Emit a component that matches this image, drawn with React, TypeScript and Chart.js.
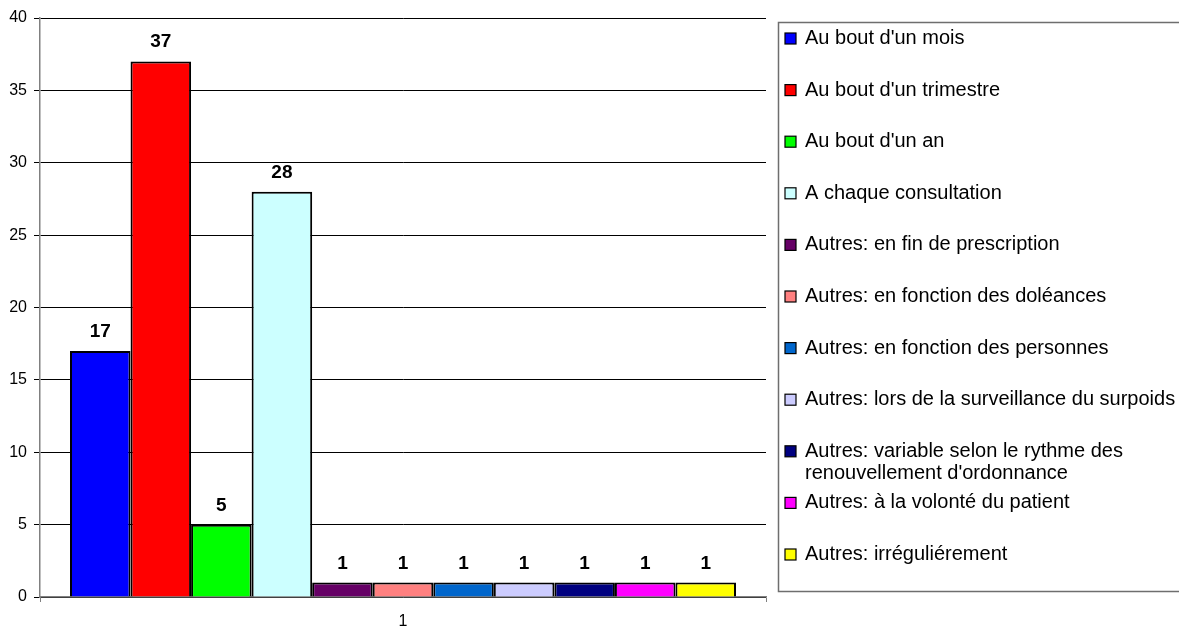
import React, { useEffect, useRef } from "react";
import { Chart, registerables } from "chart.js";

Chart.register(...registerables);

const categories = ["1"];
const seriesLabels = [
  "Au bout d'un mois",
  "Au bout d'un trimestre",
  "Au bout d'un an",
  "A chaque consultation",
  "Autres: en fin de prescription",
  "Autres: en fonction des doléances",
  "Autres: en fonction des personnes",
  "Autres: lors de la surveillance du surpoids",
  "Autres: variable selon le rythme des renouvellement d'ordonnance",
  "Autres: à la volonté du patient",
  "Autres: irréguliérement",
];
const seriesValues = [17, 37, 5, 28, 1, 1, 1, 1, 1, 1, 1];
const seriesColors = [
  "#0000FF",
  "#FF0000",
  "#00FF00",
  "#CCFFFF",
  "#660066",
  "#FF8080",
  "#0066CC",
  "#CCCCFF",
  "#000080",
  "#FF00FF",
  "#FFFF00",
];
const yTicks = [0, 5, 10, 15, 20, 25, 30, 35, 40];

const FONT = "'Liberation Sans', Arial, sans-serif";

const dataLabelPlugin = {
  id: "dataLabels",
  afterDatasetsDraw(chart: any) {
    const ctx = chart.ctx;
    ctx.save();
    ctx.font = `bold 19px ${FONT}`;
    ctx.fillStyle = "#000";
    ctx.textAlign = "center";
    ctx.textBaseline = "alphabetic";
    chart.data.datasets.forEach((ds: any, i: number) => {
      const meta = chart.getDatasetMeta(i);
      meta.data.forEach((bar: any, j: number) => {
        ctx.fillText(String(ds.data[j]), bar.x, bar.y - 14);
      });
    });
    ctx.restore();
  },
};

const legendPlugin = {
  id: "boxLegend",
  afterDraw(chart: any) {
    const ctx = chart.ctx;
    ctx.save();
    ctx.strokeStyle = "#6e6e6e";
    ctx.lineWidth = 1.5;
    ctx.strokeRect(778.5, 22.5, 420, 569);
    ctx.font = `20px ${FONT}`;
    ctx.textAlign = "left";
    ctx.textBaseline = "middle";
    const maxW = 380;
    chart.data.datasets.forEach((ds: any, i: number) => {
      const cy = 38.5 + 51.6 * i;
      ctx.fillStyle = ds.backgroundColor;
      ctx.fillRect(785, cy - 5.5, 11, 11);
      ctx.strokeStyle = "#000";
      ctx.lineWidth = 1.2;
      ctx.strokeRect(785, cy - 5.5, 11, 11);
      ctx.fillStyle = "#000";
      const words = String(ds.label).split(" ");
      const lines: string[] = [];
      let cur = "";
      words.forEach((w) => {
        const t = cur ? cur + " " + w : w;
        if (ctx.measureText(t).width > maxW && cur) {
          lines.push(cur);
          cur = w;
        } else cur = t;
      });
      if (cur) lines.push(cur);
      lines.forEach((ln, k) => ctx.fillText(ln, 805, cy + k * 22.5));
    });
    ctx.restore();
  },
};

export default function App() {
  const ref = useRef<HTMLCanvasElement>(null);
  useEffect(() => {
    if (!ref.current) return;
    const chart = new Chart(ref.current, {
      type: "bar",
      data: {
        labels: categories,
        datasets: seriesLabels.map((label, i) => ({
          label,
          data: [seriesValues[i]],
          backgroundColor: seriesColors[i],
          borderColor: "#000",
          borderWidth: 2,
          barPercentage: 1,
          categoryPercentage: 0.9174,
        })),
      },
      options: {
        animation: false,
        responsive: false,
        devicePixelRatio: 1,
        layout: { padding: { top: 18, right: 413, left: 0, bottom: 0 } },
        plugins: {
          legend: { display: false },
          tooltip: { enabled: false },
        },
        scales: {
          x: {
            offset: true,
            afterFit: (s: any) => {
              s.height = 30;
            },
            grid: {
              display: true,
              offset: true,
              drawOnChartArea: false,
              drawTicks: true,
              tickLength: 5,
              color: "#808080",
            },
            border: { color: "#808080", width: 1.5 },
            ticks: {
              color: "#000",
              font: { family: FONT, size: 16 },
              padding: 10,
            },
          },
          y: {
            min: 0,
            max: 40,
            afterFit: (s: any) => {
              s.width = 40;
            },
            afterBuildTicks: (s: any) => {
              s.ticks = yTicks.map((v) => ({ value: v }));
            },
            grid: {
              color: "#000",
              lineWidth: 1,
              tickLength: 6,
              drawTicks: true,
            },
            border: { color: "#808080", width: 1.5 },
            ticks: {
              color: "#000",
              font: { family: FONT, size: 16 },
              padding: 7,
            },
          },
        },
      },
      plugins: [dataLabelPlugin, legendPlugin],
    });
    return () => chart.destroy();
  }, []);
  return (
    <div style={{ position: "absolute", left: 0, top: 0, width: 1179, height: 627, background: "#fff" }}>
      <canvas ref={ref} width={1179} height={627} style={{ display: "block" }} />
    </div>
  );
}
